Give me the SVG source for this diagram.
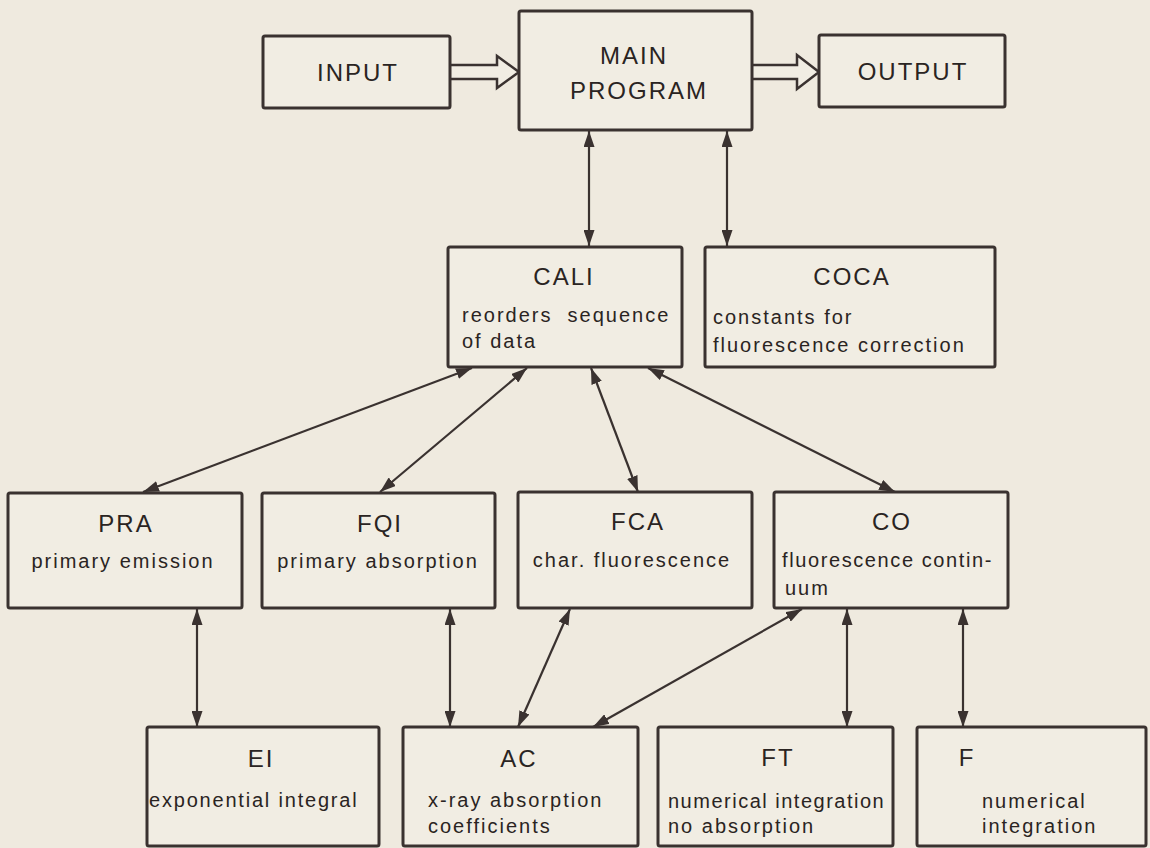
<svg xmlns="http://www.w3.org/2000/svg" width="1150" height="848" viewBox="0 0 1150 848">
<style>
.bg{fill:#efeadf}
.box{fill:#f1ede3;stroke:#3a3230;stroke-width:3}
.t{font-family:"Liberation Sans",Arial,sans-serif;font-size:24px;fill:#2a2422;letter-spacing:2px;text-anchor:middle}
.s{font-family:"Liberation Sans",Arial,sans-serif;font-size:20px;fill:#2a2422;letter-spacing:2px}
.m{text-anchor:middle}
.c line{stroke:#3a3230;stroke-width:2.2;marker-start:url(#ah);marker-end:url(#ah)}
.hollow{fill:#f1ede3;stroke:#3a3230;stroke-width:2.5;stroke-linejoin:miter}
</style>
<defs>
<marker id="ah" viewBox="0 0 16 11" refX="16" refY="5.5" markerWidth="16" markerHeight="11" markerUnits="userSpaceOnUse" orient="auto-start-reverse">
<path d="M0,0 L16,5.5 L0,11 z" fill="#3a3230"/>
</marker>
</defs>
<rect class="bg" x="0" y="0" width="1150" height="848"/>

<g id="connectors" class="c">
<polyline class="hollow" points="451,65 497,65 497,56 519,72 497,88 497,79 451,79"/>
<polyline class="hollow" points="753,65 797,65 797,55 819,72 797,89 797,79 753,79"/>
<line x1="589" y1="131" x2="589" y2="246"/>
<line x1="727" y1="131" x2="727" y2="246"/>
<line x1="472" y1="368" x2="143" y2="492"/>
<line x1="527" y1="368" x2="380" y2="492"/>
<line x1="591" y1="368" x2="638" y2="492"/>
<line x1="648" y1="368" x2="895" y2="492"/>
<line x1="197" y1="609" x2="197" y2="727"/>
<line x1="450" y1="609" x2="450" y2="727"/>
<line x1="570" y1="609" x2="518" y2="727"/>
<line x1="802" y1="609" x2="593" y2="727"/>
<line x1="847" y1="609" x2="847" y2="727"/>
<line x1="963" y1="609" x2="963" y2="727"/>
</g>

<g id="input">
<rect class="box" x="263" y="36" width="187" height="72" rx="2"/>
<text class="t" x="358" y="81">INPUT</text>
</g>
<g id="main">
<rect class="box" x="519" y="11" width="233" height="119" rx="2"/>
<text class="t" x="634" y="64">MAIN</text>
<text class="t" x="639" y="99">PROGRAM</text>
</g>
<g id="output">
<rect class="box" x="819" y="35" width="186" height="72" rx="2"/>
<text class="t" x="913" y="80">OUTPUT</text>
</g>

<g id="cali">
<rect class="box" x="448" y="247" width="234" height="120" rx="2"/>
<text class="t" x="564" y="285">CALI</text>
<text class="s" x="462" y="322" xml:space="preserve">reorders  sequence</text>
<text class="s" x="462" y="348">of data</text>
</g>
<g id="coca">
<rect class="box" x="705" y="247" width="290" height="120" rx="2"/>
<text class="t" x="852" y="285">COCA</text>
<text class="s" x="713" y="324">constants for</text>
<text class="s" x="713" y="352">fluorescence correction</text>
</g>

<g id="pra">
<rect class="box" x="8" y="493" width="234" height="115" rx="2"/>
<text class="t" x="126" y="532">PRA</text>
<text class="s m" x="123" y="568">primary emission</text>
</g>
<g id="fqi">
<rect class="box" x="262" y="493" width="233" height="115" rx="2"/>
<text class="t" x="380" y="532">FQI</text>
<text class="s m" x="378" y="568">primary absorption</text>
</g>
<g id="fca">
<rect class="box" x="518" y="492" width="234" height="116" rx="2"/>
<text class="t" x="638" y="530">FCA</text>
<text class="s m" x="632" y="567">char. fluorescence</text>
</g>
<g id="co">
<rect class="box" x="774" y="492" width="234" height="116" rx="2"/>
<text class="t" x="892" y="530">CO</text>
<text class="s" x="782" y="567" style="letter-spacing:1.6px">fluorescence contin-</text>
<text class="s" x="785" y="595">uum</text>
</g>

<g id="ei">
<rect class="box" x="147" y="727" width="232" height="119" rx="2"/>
<text class="t" x="261" y="767">EI</text>
<text class="s" x="149" y="807" style="letter-spacing:1.8px">exponential integral</text>
</g>
<g id="ac">
<rect class="box" x="403" y="727" width="235" height="119" rx="2"/>
<text class="t" x="519" y="767">AC</text>
<text class="s" x="428" y="807">x-ray absorption</text>
<text class="s" x="428" y="833">coefficients</text>
</g>
<g id="ft">
<rect class="box" x="658" y="727" width="235" height="119" rx="2"/>
<text class="t" x="778" y="766">FT</text>
<text class="s" x="668" y="808" style="letter-spacing:1.5px">numerical integration</text>
<text class="s" x="668" y="833">no absorption</text>
</g>
<g id="f">
<rect class="box" x="917" y="727" width="229" height="119" rx="2"/>
<text class="t" x="967" y="766">F</text>
<text class="s" x="982" y="808">numerical</text>
<text class="s" x="982" y="833">integration</text>
</g>
</svg>
